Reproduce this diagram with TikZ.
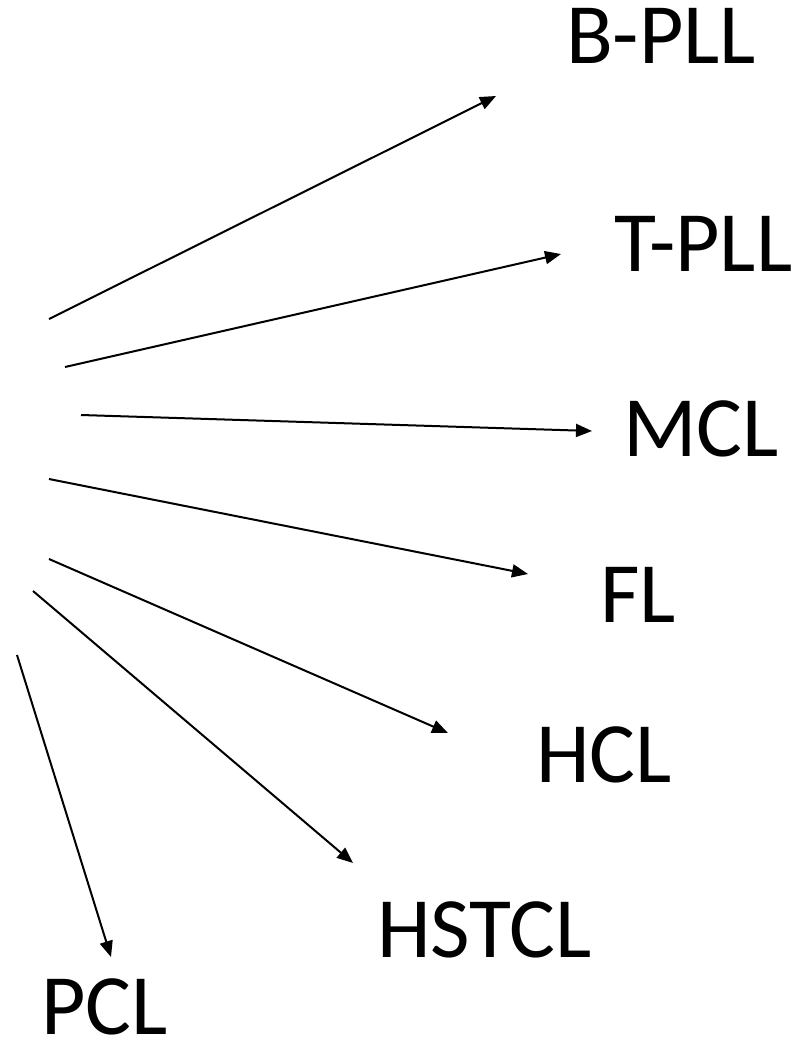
\documentclass[tikz,border=0pt]{standalone}
\usepackage{fontspec}
\setmainfont{Carlito}
\usepackage{tikz}
\usetikzlibrary{arrows.meta}

\begin{document}
\begin{tikzpicture}[x=1pt,y=-1pt,->,>={Triangle[length=16pt,width=13pt]},
                    line width=2pt]
  \tikzstyle{every node}=[anchor=base west,inner sep=0pt,
                          font=\fontsize{86}{100}\selectfont]
  \useasboundingbox (0,0) rectangle (804,1042);

  % labels, placed by their baselines
  \node (BPLL)  at (565,63)   {B-PLL};
  \node (TPLL)  at (613,271)  {T-PLL};
  \node (MCL)   at (622,456)  {MCL};
  \node (FL)    at (599,622)  {FL};
  \node (HCL)   at (535,782)  {HCL};
  \node (HSTCL) at (376,957)  {HSTCL};
  \node (PCL)   at (40,1034)  {PCL};

  % tails on the left
  \coordinate (b0) at (49,319);
  \coordinate (t0) at (65,367);
  \coordinate (m0) at (81,415);
  \coordinate (f0) at (49,479);
  \coordinate (h0) at (49,559);
  \coordinate (s0) at (33,591);
  \coordinate (p0) at (17,655);

  % heads, short of each label
  \coordinate (b1) at (496,96);
  \coordinate (t1) at (561,254);
  \coordinate (m1) at (592,431);
  \coordinate (f1) at (528,574);
  \coordinate (h1) at (448,733);
  \coordinate (s1) at (353,863);
  \coordinate (p1) at (111,957);

  \path (b0) edge (b1)
        (t0) edge (t1)
        (m0) edge (m1)
        (f0) edge (f1)
        (h0) edge (h1)
        (s0) edge (s1)
        (p0) edge (p1);
\end{tikzpicture}
\end{document}
